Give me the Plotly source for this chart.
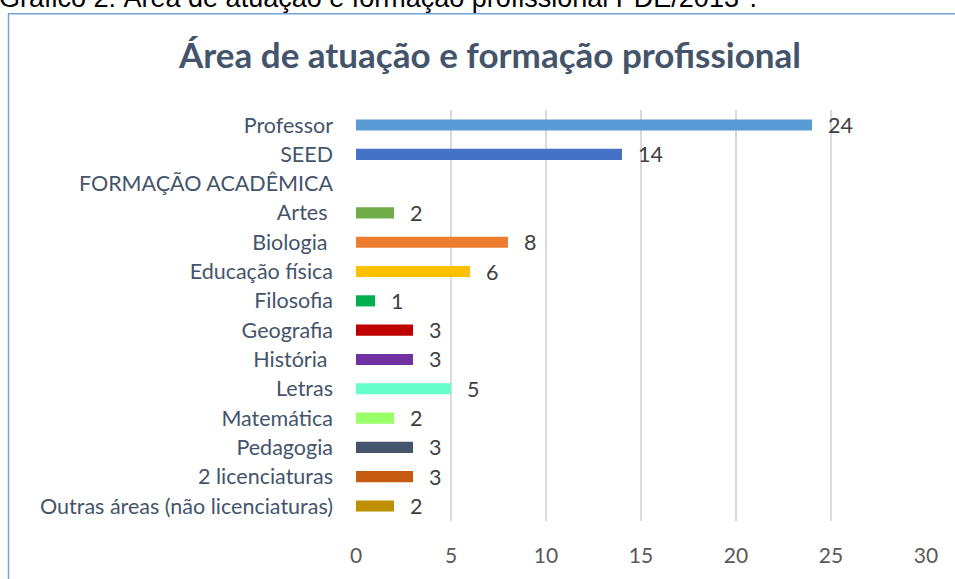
import plotly.graph_objects as go

categories = ["Professor", "SEED", "FORMAÇÃO ACADÊMICA", "Artes\u00a0", "Biologia\u00a0",
              "Educação física", "Filosofia", "Geografia", "História\u00a0", "Letras",
              "Matemática", "Pedagogia", "2 licenciaturas", "Outras áreas (não licenciaturas)"]
values = [24, 14, None, 2, 8, 6, 1, 3, 3, 5, 2, 3, 3, 2]
colors = ["#5B9BD5", "#4472C4", "#FFFFFF", "#70AD47", "#ED7D31", "#FFC000", "#00B050",
          "#C00000", "#7030A0", "#66FFCC", "#99FF66", "#44546A", "#C55A11", "#BF9000"]
tick_vals = [0, 5, 10, 15, 20, 25, 30]

W, H = 955, 579
L, R, T, B = 356, 29, 110, 53
pw, ph = W - L - R, H - T - B

def px(x):
    return (x - L) / pw

def py(y):
    return 1 - (y - T) / ph

fig = go.Figure()
fig.add_trace(go.Bar(
    y=categories, x=[v if v is not None else 0 for v in values], orientation="h",
    marker=dict(color=colors, line=dict(width=0)), width=0.38,
    hoverinfo="x+y",
))

annotations = []
for c, v in zip(categories, values):
    if v is None:
        continue
    annotations.append(dict(x=v, y=c, xref="x", yref="y", text=str(v), showarrow=False,
                            xanchor="left", yanchor="middle", xshift=14,
                            font=dict(family="Lato", size=21.5, color="#404040")))

annotations.append(dict(x=px(489), y=py(53), xref="paper", yref="paper",
                        text="<b>Área de atuação e formação profissional</b>", showarrow=False,
                        xanchor="center", yanchor="middle",
                        font=dict(family="Lato", size=35, color="#44546A")))
annotations.append(dict(x=px(-3), y=py(14), xref="paper", yref="paper",
                        text="Gráfico 2: Área de atuação e formação profissional PDE/2013<sup>1</sup>.",
                        showarrow=False, xanchor="left", yanchor="bottom",
                        font=dict(family="Liberation Sans", size=27, color="#000000")))

shapes = [dict(type="rect", xref="paper", yref="paper",
               x0=px(8.5), x1=px(980), y0=py(600), y1=py(12.5),
               line=dict(color="#6FA3D9", width=1.5), fillcolor="rgba(0,0,0,0)", layer="below")]

fig.update_layout(
    width=W, height=H,
    margin=dict(l=L, r=R, t=T, b=B, pad=0),
    paper_bgcolor="white", plot_bgcolor="white",
    showlegend=False,
    annotations=annotations,
    shapes=shapes,
    xaxis=dict(range=[0, 30], tickvals=tick_vals, showgrid=True, gridcolor="#D9D9D9", gridwidth=1.5,
               zeroline=False, showline=False, ticks="", ticklen=0,
               tickfont=dict(family="Lato", size=21, color="#595959"), fixedrange=True),
    yaxis=dict(autorange="reversed", categoryorder="array", categoryarray=categories,
               showgrid=False, zeroline=False, showline=False, ticks="", ticklen=0,
               tickfont=dict(family="Lato", size=21.5, color="#44546A"), fixedrange=True),
)
fig.update_xaxes(ticklabelstandoff=20)
fig.update_yaxes(ticklabelstandoff=22)

fig.write_html("out.html", config={"displayModeBar": False},
               post_script="document.body.style.margin='0';document.body.style.padding='0';")
